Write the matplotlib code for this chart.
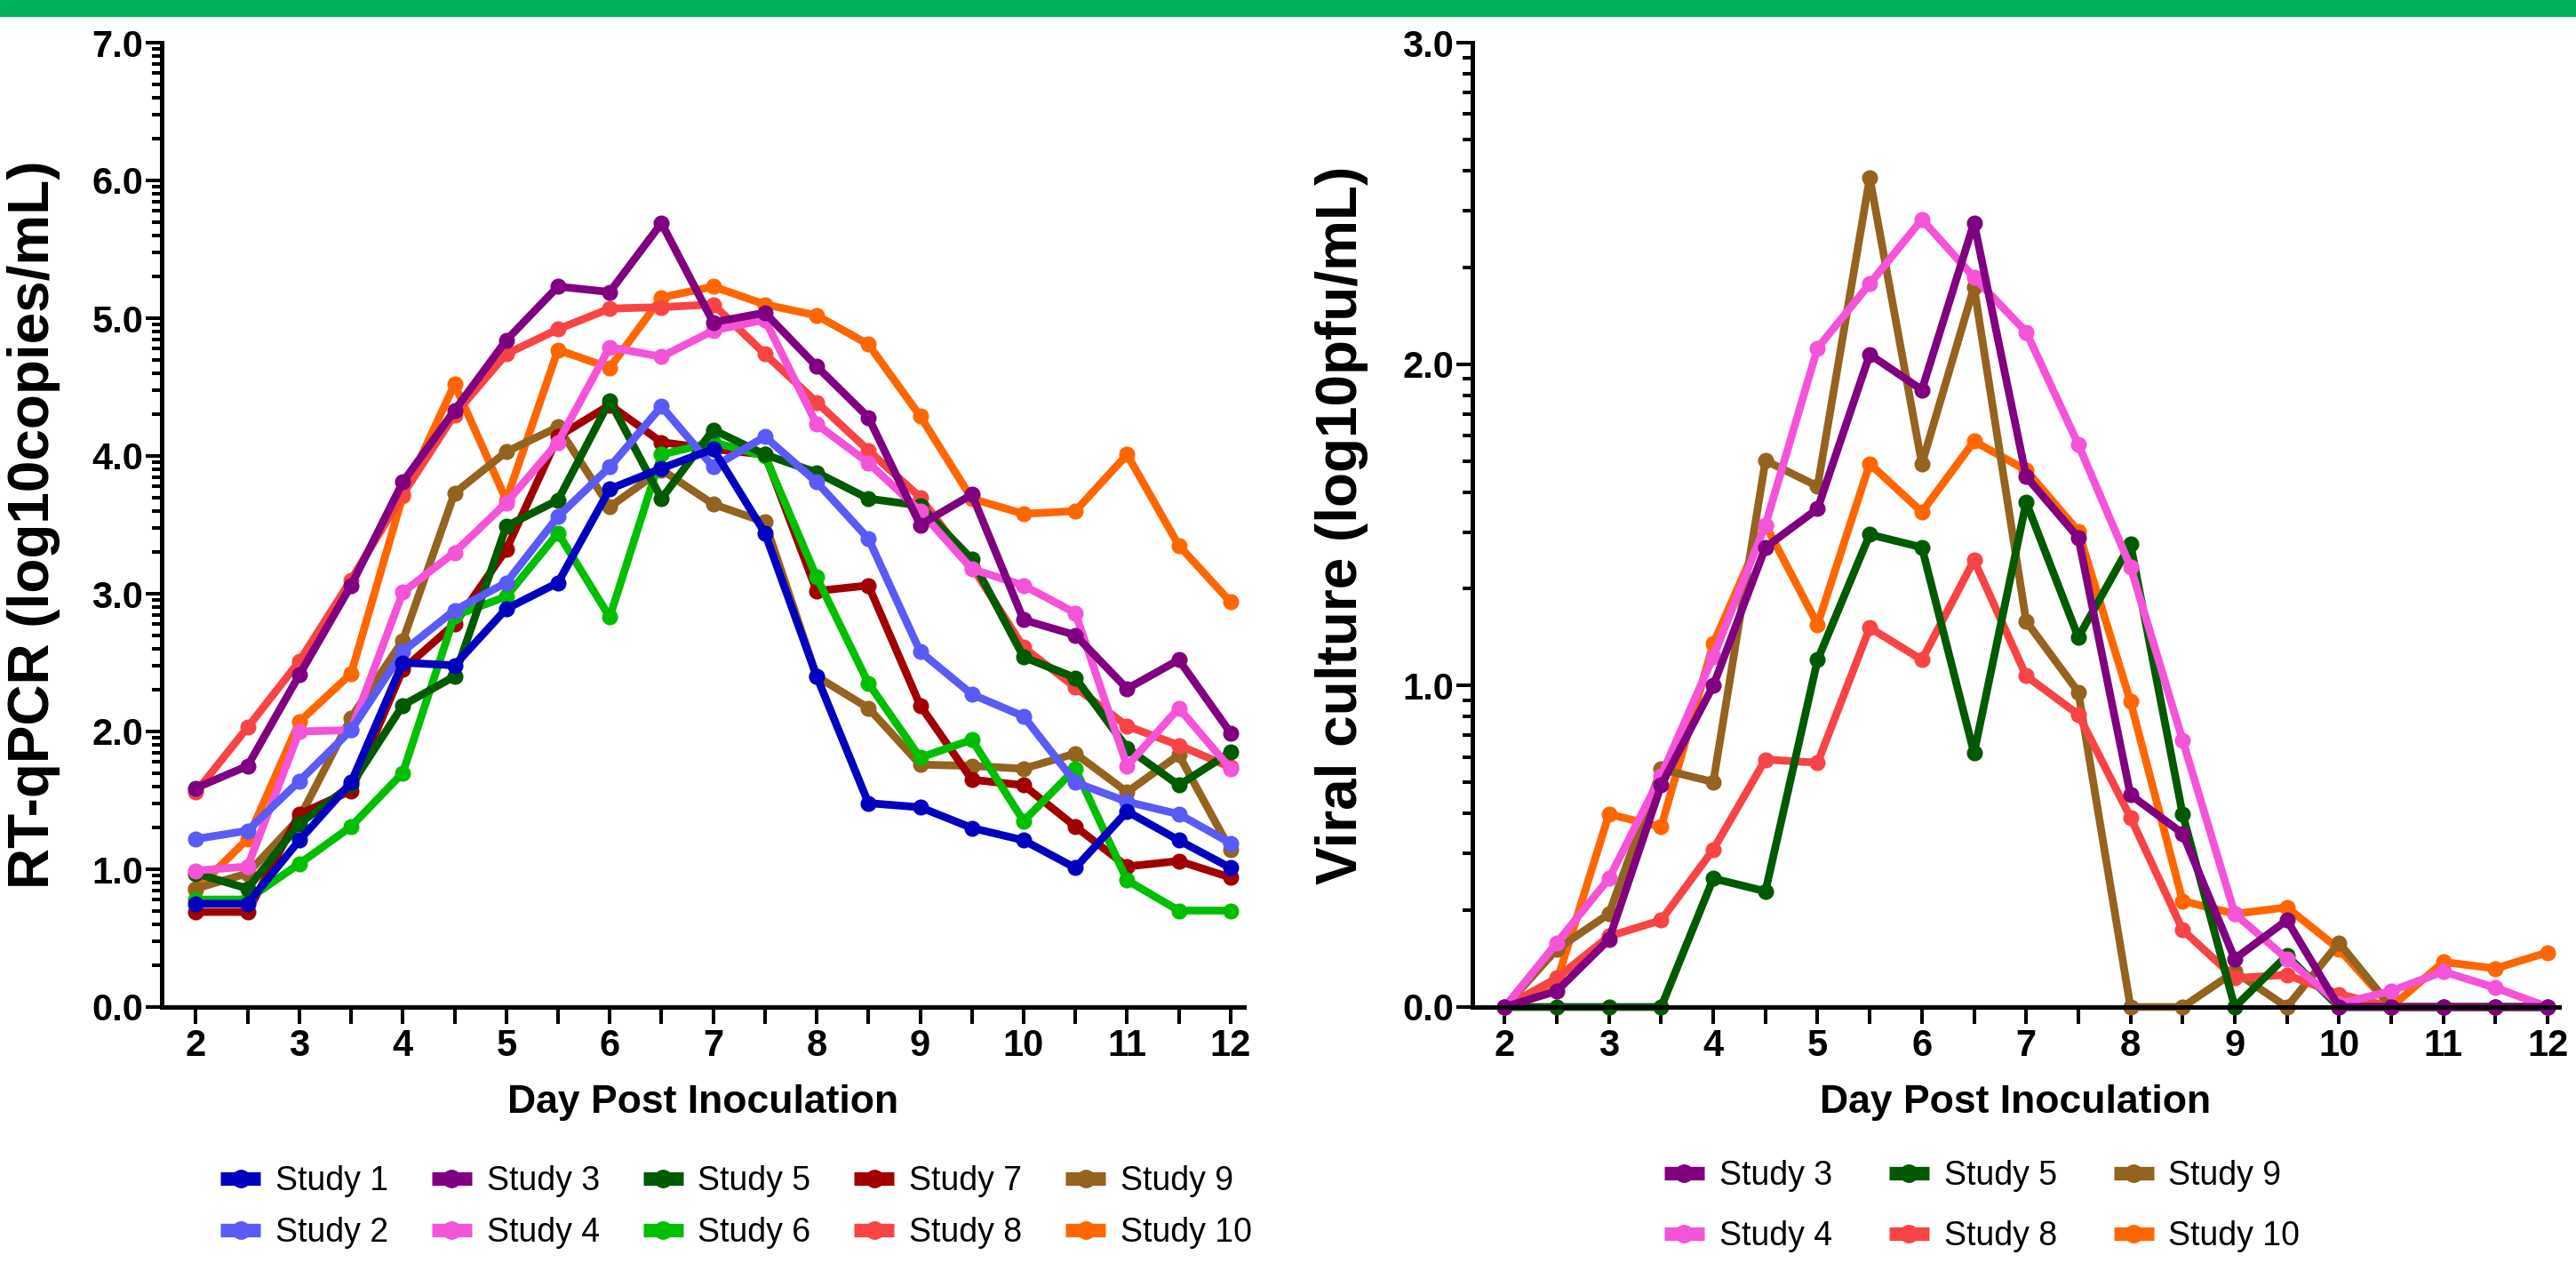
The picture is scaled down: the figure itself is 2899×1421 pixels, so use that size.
import numpy as np
import matplotlib.pyplot as plt
from matplotlib.patches import Rectangle
from matplotlib.lines import Line2D
from matplotlib.ticker import FixedLocator, FormatStrFormatter

plt.rcParams['font.family'] = ['Liberation Sans', 'DejaVu Sans']

days = [2, 2.5, 3, 3.5, 4, 4.5, 5, 5.5, 6, 6.5, 7, 7.5, 8, 8.5, 9, 9.5, 10, 10.5, 11, 11.5, 12]

# RT-qPCR (log10 copies/mL)
pcr_s1 = [0.75, 0.75, 1.21, 1.63, 2.50, 2.48, 2.89, 3.08, 3.76, 3.91, 4.05, 3.44, 2.40, 1.48, 1.45, 1.30, 1.21, 1.01, 1.42, 1.21, 1.01]
pcr_s2 = [1.22, 1.28, 1.64, 2.01, 2.58, 2.88, 3.08, 3.56, 3.92, 4.36, 3.92, 4.14, 3.81, 3.40, 2.58, 2.27, 2.11, 1.63, 1.49, 1.40, 1.19]
pcr_s3 = [1.59, 1.75, 2.41, 3.06, 3.81, 4.33, 4.84, 5.23, 5.19, 5.69, 4.97, 5.04, 4.65, 4.28, 3.50, 3.72, 2.81, 2.70, 2.31, 2.52, 1.99]
pcr_s4 = [0.99, 1.02, 2.00, 2.01, 3.01, 3.30, 3.66, 4.10, 4.79, 4.72, 4.91, 4.99, 4.23, 3.95, 3.60, 3.18, 3.06, 2.86, 1.75, 2.17, 1.73]
pcr_s5 = [0.97, 0.86, 1.33, 1.61, 2.19, 2.40, 3.49, 3.68, 4.40, 3.69, 4.19, 4.01, 3.88, 3.69, 3.64, 3.25, 2.54, 2.39, 1.88, 1.61, 1.85]
pcr_s6 = [0.78, 0.78, 1.04, 1.31, 1.70, 2.84, 2.98, 3.44, 2.83, 4.01, 4.10, 4.00, 3.12, 2.35, 1.81, 1.94, 1.35, 1.73, 0.92, 0.70, 0.70]
pcr_s7 = [0.69, 0.69, 1.40, 1.57, 2.45, 2.78, 3.32, 4.14, 4.37, 4.10, 4.05, 4.01, 3.02, 3.06, 2.19, 1.65, 1.61, 1.31, 1.02, 1.06, 0.94]
pcr_s8 = [1.56, 2.03, 2.51, 3.10, 3.72, 4.30, 4.74, 4.92, 5.07, 5.08, 5.10, 4.74, 4.39, 4.04, 3.70, 3.20, 2.61, 2.32, 2.04, 1.90, 1.74]
pcr_s9 = [0.86, 0.97, 1.37, 2.10, 2.66, 3.73, 4.03, 4.21, 3.63, 3.90, 3.65, 3.52, 2.40, 2.17, 1.76, 1.75, 1.73, 1.84, 1.56, 1.83, 1.14]
pcr_s10 = [0.85, 1.22, 2.07, 2.42, 3.71, 4.52, 3.68, 4.77, 4.64, 5.15, 5.23, 5.10, 5.02, 4.81, 4.29, 3.69, 3.58, 3.60, 4.01, 3.35, 2.94]

# Viral culture (log10 pfu/mL)
cul_s3 = [0.00, 0.05, 0.21, 0.69, 1.00, 1.43, 1.55, 2.03, 1.92, 2.44, 1.65, 1.46, 0.66, 0.54, 0.15, 0.27, 0.00, 0.00, 0.00, 0.00, 0.00]
cul_s4 = [0.00, 0.20, 0.40, 0.72, 1.09, 1.50, 2.05, 2.25, 2.45, 2.27, 2.10, 1.75, 1.37, 0.83, 0.29, 0.15, 0.01, 0.05, 0.11, 0.06, 0.00]
cul_s5 = [0.00, 0.00, 0.00, 0.00, 0.40, 0.36, 1.08, 1.47, 1.43, 0.79, 1.57, 1.15, 1.44, 0.60, 0.00, 0.16, 0.00, 0.00, 0.00, 0.00, 0.00]
cul_s8 = [0.00, 0.09, 0.22, 0.27, 0.49, 0.77, 0.76, 1.18, 1.08, 1.39, 1.03, 0.91, 0.59, 0.24, 0.09, 0.10, 0.04, 0.00, 0.00, 0.00, 0.00]
cul_s9 = [0.00, 0.18, 0.29, 0.74, 0.70, 1.70, 1.62, 2.58, 1.69, 2.24, 1.20, 0.98, 0.00, 0.00, 0.11, 0.00, 0.20, 0.00, 0.00, 0.00, 0.00]
cul_s10 = [0.00, 0.08, 0.60, 0.56, 1.13, 1.50, 1.19, 1.69, 1.54, 1.76, 1.67, 1.48, 0.95, 0.33, 0.29, 0.31, 0.18, 0.00, 0.14, 0.12, 0.17]

colors = {1: '#0000be', 2: '#5a5af8', 3: '#800080', 4: '#f553d8', 5: '#005a00',
          6: '#00bf00', 7: '#a00000', 8: '#f84444', 9: '#946320', 10: '#ff6600'}

pcr = {1: pcr_s1, 2: pcr_s2, 3: pcr_s3, 4: pcr_s4, 5: pcr_s5,
       6: pcr_s6, 7: pcr_s7, 8: pcr_s8, 9: pcr_s9, 10: pcr_s10}
cul = {3: cul_s3, 4: cul_s4, 5: cul_s5, 8: cul_s8, 9: cul_s9, 10: cul_s10}

fig = plt.figure(figsize=(28.99, 14.21), dpi=100)
fig.patches.append(Rectangle((0, 1 - 18/1421), 1, 18/1421, transform=fig.transFigure,
                             color='#00b25c', zorder=0))

ax1 = fig.add_axes([182/2899, 288/1421, 1218/2899, 1085/1421])
ax2 = fig.add_axes([1657/2899, 288/1421, 1223/2899, 1085/1421])

lw = 6.3
ms = 12


def style(ax, ymax, xl):
    ax.set_xlim(xl)
    ax.set_ylim(0, ymax)
    for s in ['top', 'right']:
        ax.spines[s].set_visible(False)
    for s in ['left', 'bottom']:
        ax.spines[s].set_linewidth(3.6)
    ax.set_xticks(range(2, 13))
    ax.xaxis.set_minor_locator(FixedLocator(np.arange(2.5, 12, 1.0)))
    ax.set_yticks(np.arange(0, ymax + 0.01, 1.0))
    ax.yaxis.set_major_formatter(FormatStrFormatter('%.1f'))
    ax.yaxis.set_minor_locator(FixedLocator([n + np.log10(k) for n in range(int(ymax)) for k in range(2, 10)]))
    ax.tick_params(axis='x', which='both', length=14, width=2.9, pad=3, direction='out')
    ax.tick_params(axis='y', which='major', length=13, width=2.9, pad=2)
    ax.tick_params(axis='y', which='minor', length=8, width=2.9)
    for lab in ax.get_xticklabels() + ax.get_yticklabels():
        lab.set_fontsize(30)
        lab.set_fontweight('bold')
    ax.set_xlabel('Day Post Inoculation', fontsize=32, fontweight='bold')
    ax.xaxis.set_label_coords(0.5, -0.08)


style(ax1, 7, (1.67, 12.13))
style(ax2, 3, (1.69, 12.11))

for k in sorted(pcr, reverse=True):
    ax1.plot(days, pcr[k], color=colors[k], lw=lw, marker='o', ms=ms, clip_on=False)
for k in sorted(cul, reverse=True):
    ax2.plot(days, cul[k], color=colors[k], lw=lw, marker='o', ms=ms, clip_on=False)

ax1.set_ylabel('RT-qPCR (log10copies/mL)', fontsize=46, fontweight='bold')
ax1.yaxis.set_label_coords(-0.094, 0.5)
ax2.set_ylabel('Viral culture (log10pfu/mL)', fontsize=46, fontweight='bold')
ax2.yaxis.set_label_coords(-0.096, 0.5)


def leg_handle(k):
    return Line2D([], [], color=colors[k], lw=11, marker='o', ms=14, solid_capstyle='butt')


fig.legend([leg_handle(k) for k in sorted(pcr)], ['Study %d' % k for k in sorted(pcr)],
           ncol=5, loc='center left', bbox_to_anchor=(248/2899, 63/1421), frameon=False,
           fontsize=27, handlelength=1.2, handletextpad=0.45, columnspacing=1.3,
           labelspacing=0.6, borderpad=0, borderaxespad=0)
fig.legend([leg_handle(k) for k in sorted(cul)], ['Study %d' % k for k in sorted(cul)],
           ncol=3, loc='center left', bbox_to_anchor=(1873/2899, 64/1421), frameon=False,
           fontsize=27, handlelength=1.2, handletextpad=0.45, columnspacing=1.7,
           labelspacing=0.85, borderpad=0, borderaxespad=0)

fig.savefig('out.png', dpi=100)
